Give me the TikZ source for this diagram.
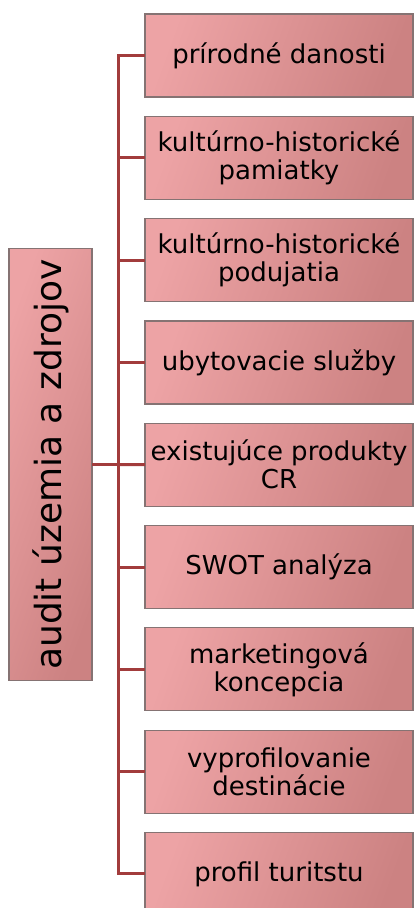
\documentclass[tikz,border=0pt]{standalone}
\usepackage{fontspec}
\setmainfont{DejaVu Sans}
\usetikzlibrary{positioning}
\definecolor{boxlight}{HTML}{EDA3A5}
\definecolor{boxdark}{HTML}{CC8282}
\definecolor{boxedge}{HTML}{857373}
\definecolor{linkred}{HTML}{A23C3C}
\begin{document}
\begin{tikzpicture}[x=1pt, y=-1pt, node distance=19.3pt,
    every node/.style={outer sep=0pt, inner sep=2pt},
    item/.style={draw=boxedge, line width=1.2pt, left color=boxlight, right color=boxdark,
        shading angle=70, minimum width=268pt, minimum height=83pt, align=center,
        font=\fontsize{26}{28}\selectfont},
    link/.style={draw=linkred, line width=3pt, line join=miter}]
    \useasboundingbox (0,0) rectangle (413,908);
    \node[item, anchor=north west] (danosti) at (145,14) {prírodné danosti};
    \node[item, below=of danosti] (pamiatky) {kultúrno-historické\\pamiatky};
    \node[item, below=of pamiatky] (podujatia) {kultúrno-historické\\podujatia};
    \node[item, below=of podujatia] (ubytovanie) {ubytovacie služby};
    \node[item, below=of ubytovanie] (produkty) {existujúce produkty\\CR};
    \node[item, below=of produkty] (swot) {SWOT analýza};
    \node[item, below=of swot] (koncepcia) {marketingová\\koncepcia};
    \node[item, below=of koncepcia] (destinacia) {vyprofilovanie\\destinácie};
    \node[item, below=of destinacia] (turista) {profil turitstu};
    \node[item, rotate=90, minimum width=432pt, minimum height=83pt,
        font=\fontsize{36}{40}\selectfont] (audit) at (50.5,464.7) {audit územia a zdrojov};
    \coordinate (fork) at ([xshift=26pt]audit.south);
    \draw[link] (audit.south) -- (fork);
    \draw[link] (fork) |- (danosti.west);
    \draw[link] (fork) |- (pamiatky.west);
    \draw[link] (fork) |- (podujatia.west);
    \draw[link] (fork) |- (ubytovanie.west);
    \draw[link] (fork) -- (produkty.west);
    \draw[link] (fork) |- (swot.west);
    \draw[link] (fork) |- (koncepcia.west);
    \draw[link] (fork) |- (destinacia.west);
    \draw[link] (fork) |- (turista.west);
\end{tikzpicture}
\end{document}
